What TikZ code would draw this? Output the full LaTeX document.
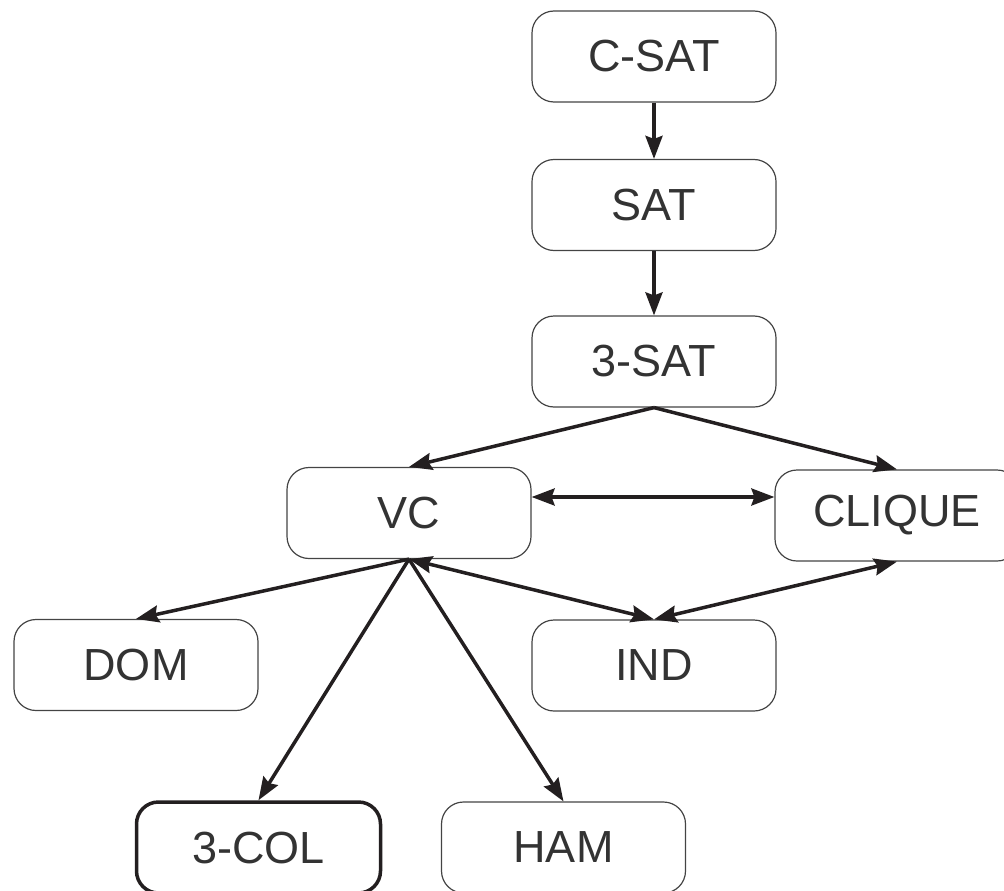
\documentclass[tikz,border=0pt]{standalone}
\usepackage{fontspec}
\setmainfont{Liberation Sans}
\usetikzlibrary{arrows.meta}
\definecolor{boxline}{HTML}{444444}
\definecolor{txt}{HTML}{333333}
\definecolor{arr}{HTML}{231F20}
\tikzset{
  prob/.style={draw=boxline, line width=1.2pt, rounded corners=22pt, minimum width=244pt,
    minimum height=91pt, inner sep=0pt, text=txt, font=\fontsize{45}{54}\selectfont},
  probthick/.style={prob, draw=arr, line width=3.5pt},
  tip/.style={},
  conn/.style={draw=arr, line width=3.5pt, -{Stealth[length=23pt,width=17pt,inset=3pt]}},
  conn2/.style={draw=arr, line width=3.5pt, {Stealth[length=23pt,width=17pt,inset=3pt]}-{Stealth[length=23pt,width=17pt,inset=3pt]}}
}
\begin{document}
\begin{tikzpicture}[x=1pt,y=-1pt]
\clip (0,0) rectangle (1004,891);
\node[prob] (csat) at (654,56.5) {C-SAT};
\node[prob] (sat) at (654,205) {SAT};
\node[prob] (tsat) at (654,361.5) {3-SAT};
\node[prob] (vc) at (409,513) {VC};
\node[prob] (clique) at (897,515.5) {CLIQUE};
\node[prob] (dom) at (136,665) {DOM};
\node[prob] (ind) at (654,665.5) {IND};
\node[probthick] (col) at (258.5,847.5) {3-COL};
\node[prob] (ham) at (563.5,847.5) {HAM};
\draw[conn] (csat) -- (sat);
\draw[conn] (sat) -- (tsat);
\draw[conn] (tsat.south) -- (vc.north);
\draw[conn] (tsat.south) -- (clique.north);
\coordinate (h1) at ([yshift=16pt]vc.east);
\draw[conn2] (h1) -- (h1 -| clique.west);
\draw[conn] (vc.south) -- (dom.north);
\draw[conn] (vc.south) -- (col.north);
\draw[conn] (vc.south) -- (ham.north);
\draw[conn2] (vc.south) -- (ind.north);
\draw[conn2] (clique.south) -- (ind.north);
\end{tikzpicture}
\end{document}
